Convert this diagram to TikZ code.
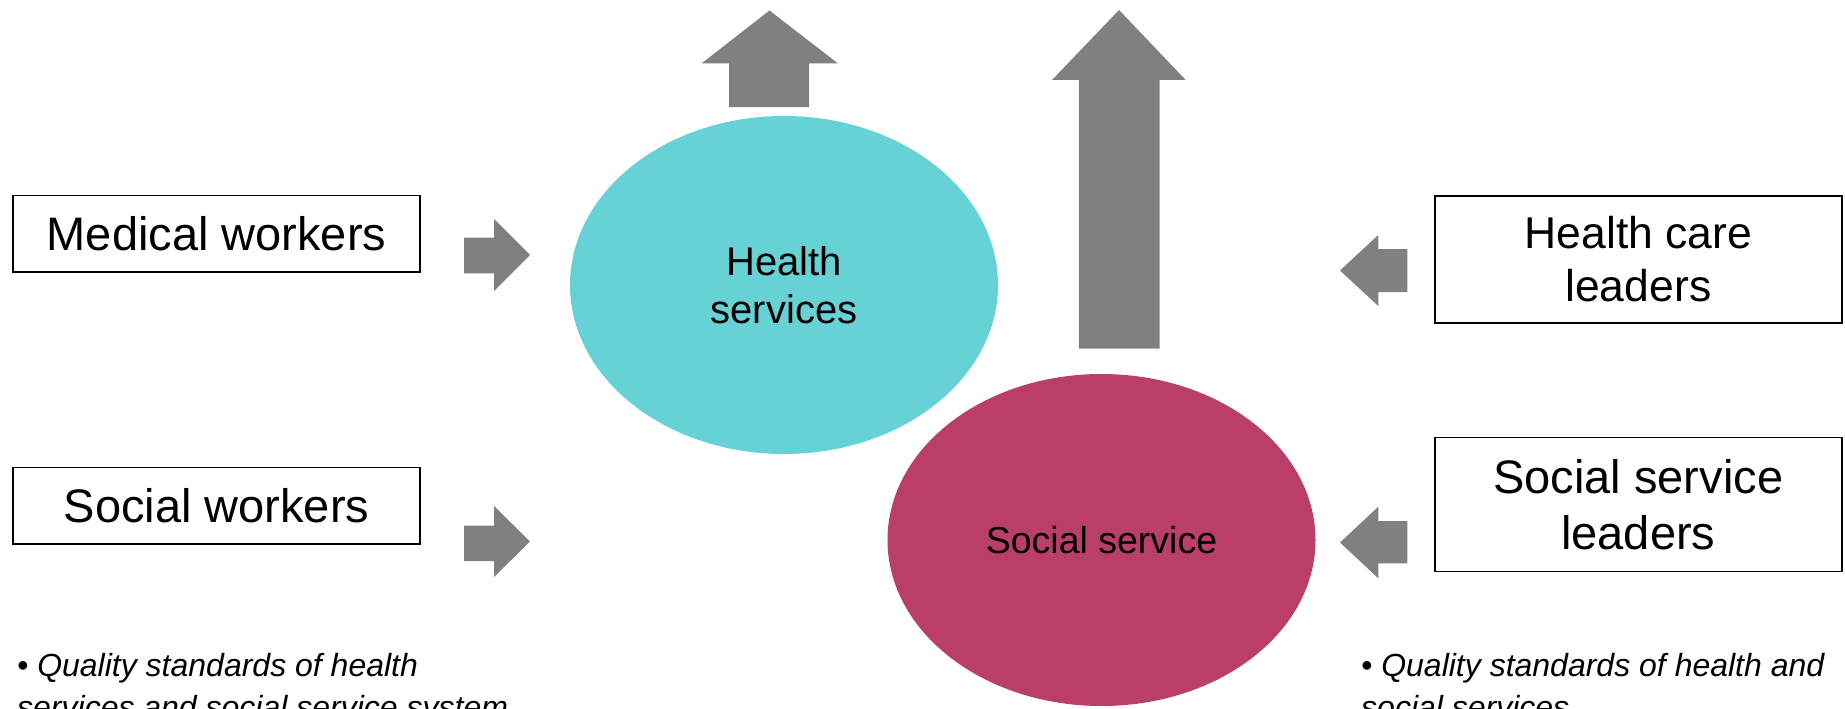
\documentclass[tikz,border=0pt]{standalone}
\usepackage{fontspec}
\setmainfont{Liberation Sans}
\usetikzlibrary{shapes.geometric}
\definecolor{healthteal}{HTML}{66D2D6}
\definecolor{socialrose}{HTML}{B93E68}
\definecolor{arrowgrey}{HTML}{808080}
\begin{document}
\begin{tikzpicture}[x=1pt,y=-1pt,
  rolebox/.style={draw=black, line width=1.6pt, fill=white, inner sep=0pt,
    align=center, font=\fontsize{47}{55.6}\selectfont},
  service/.style={ellipse, draw=none, inner sep=0pt, align=center},
  blockarrow/.style={fill=arrowgrey, draw=none},
  note/.style={anchor=base west, inner sep=0pt,
    font=\fontsize{32}{42}\selectfont\itshape}]
\useasboundingbox (0,0) rectangle (1845,709);

% the two services
\node[service, fill=healthteal, minimum width=428, minimum height=338,
      font=\fontsize{40}{48.3}\selectfont] (health) at (784,285) {Health\\services};
\node[service, fill=socialrose, minimum width=428, minimum height=332,
      font=\fontsize{37.5}{45}\selectfont] (social) at (1101.5,540) {Social service};

% workers and leaders
\node[rolebox, minimum width=406.8, minimum height=76.4] (medical) at (216.5,233.7) {Medical workers};
\node[rolebox, minimum width=406.8, minimum height=76.7] (socialw) at (216.5,505.9) {Social workers};
\node[rolebox, minimum width=407.1, minimum height=127.4,
      font=\fontsize{44.5}{53}\selectfont] (hleaders) at (1638.3,259.5) {Health care\\leaders};
\node[rolebox, minimum width=407.1, minimum height=134] (sleaders) at (1638.3,504.5) {Social service\\leaders};

% block arrows into the services
\fill[blockarrow] (464,237.7) -- (494,237.7) -- (494,219) -- (530,255)
  -- (494,291) -- (494,273.3) -- (464,273.3) -- cycle;
\fill[blockarrow] (464,525.7) -- (494,525.7) -- (494,506) -- (530,541.5)
  -- (494,577) -- (494,561) -- (464,561) -- cycle;
\fill[blockarrow] (1407.3,249) -- (1378.3,249) -- (1378.3,235) -- (1340,270.5)
  -- (1378.3,306) -- (1378.3,292) -- (1407.3,292) -- cycle;
\fill[blockarrow] (1407.3,521) -- (1378.3,521) -- (1378.3,506.7) -- (1340,542.5)
  -- (1378.3,578.3) -- (1378.3,563.3) -- (1407.3,563.3) -- cycle;

% block arrows pointing upwards
\fill[blockarrow] (729,107) -- (729,63.5) -- (701.5,63.5) -- (769.5,10.5)
  -- (838,63.5) -- (809,63.5) -- (809,107) -- cycle;
\fill[blockarrow] (1078.8,348.7) -- (1078.8,80) -- (1052,80) -- (1119,10)
  -- (1185.7,80) -- (1159.5,80) -- (1159.5,348.7) -- cycle;

% quality standards notes
\node[note] (noteLa) at (17,676) {\textbullet\ Quality standards of health};
\node[note] (noteLb) at (17,718) {services and social service system};
\node[note] (noteRa) at (1361,676.5) {\textbullet\ Quality standards of health and};
\node[note] (noteRb) at (1361,718.5) {social services};
\end{tikzpicture}
\end{document}
